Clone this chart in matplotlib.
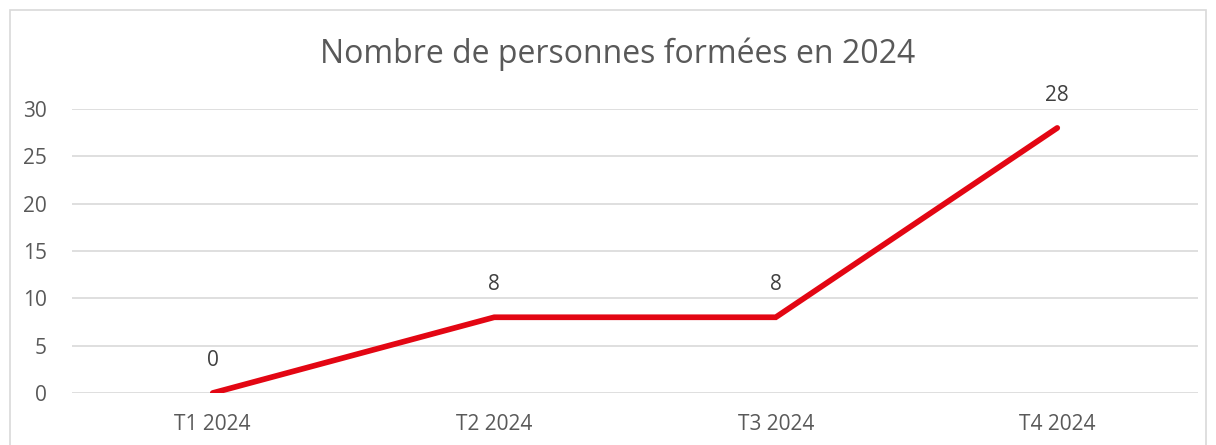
import matplotlib
matplotlib.use("Agg")
import matplotlib.pyplot as plt
from matplotlib.patches import Rectangle

# data
quarters = ["T1 2024", "T2 2024", "T3 2024", "T4 2024"]
trained = [0, 8, 8, 28]
y_ticks = [0, 5, 10, 15, 20, 25, 30]

plt.rcParams["font.family"] = ["Open Sans", "DejaVu Sans"]
text_col = "#595959"
grid_col = "#D9D9D9"

W, H = 1216, 445
fig = plt.figure(figsize=(W / 100, H / 100), dpi=100)

# chart frame
fig.patches.append(Rectangle((10 / W, -0.1), (1206 - 10) / W, (H - 10) / H + 0.1,
                             transform=fig.transFigure, fill=False,
                             edgecolor=grid_col, linewidth=1.2))

ax = fig.add_axes([72 / W, (H - 393) / H, (1198 - 72) / W, (393 - 109) / H])
x = list(range(len(quarters)))
ax.plot(x, trained, color="#E30613", linewidth=4.1, solid_capstyle="round",
        solid_joinstyle="miter", zorder=3)

for xi, v in zip(x, trained):
    ax.annotate(str(v), (xi, v), xytext=(0, 16), textcoords="offset points",
                ha="center", va="bottom", fontsize=15, color="#404040")

ax.set_xlim(-0.5, len(quarters) - 0.5)
ax.set_ylim(0, 30)
ax.set_yticks(y_ticks)
ax.set_xticks(x)
ax.set_xticklabels(quarters)
ax.grid(axis="y", color=grid_col, linewidth=1.2)
ax.set_axisbelow(True)
for s in ax.spines.values():
    s.set_visible(False)
ax.tick_params(length=0, labelsize=15, labelcolor=text_col)
ax.tick_params(axis="y", pad=18)
ax.tick_params(axis="x", pad=15)

fig.text(618 / W, 1 - 54 / H, "Nombre de personnes formées en 2024",
         ha="center", va="center", fontsize=23, color=text_col)

fig.savefig("out.png", dpi=100)
